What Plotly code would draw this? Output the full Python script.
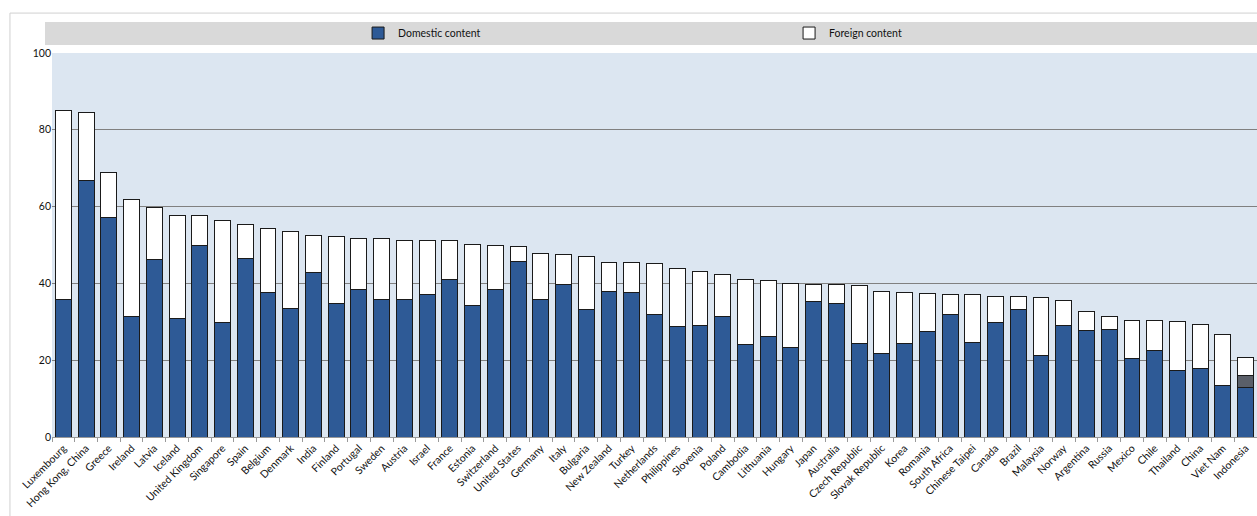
import plotly.graph_objects as go

countries = ["Luxembourg", "Hong Kong, China", "Greece", "Ireland", "Latvia", "Iceland",
             "United Kingdom", "Singapore", "Spain", "Belgium", "Denmark", "India", "Finland",
             "Portugal", "Sweden", "Austria", "Israel", "France", "Estonia", "Switzerland",
             "United States", "Germany", "Italy", "Bulgaria", "New Zealand", "Turkey",
             "Netherlands", "Philippines", "Slovenia", "Poland", "Cambodia", "Lithuania",
             "Hungary", "Japan", "Australia", "Czech Republic", "Slovak Republic", "Korea",
             "Romania", "South Africa", "Chinese Taipei", "Canada", "Brazil", "Malaysia",
             "Norway", "Argentina", "Russia", "Mexico", "Chile", "Thailand", "China",
             "Viet Nam", "Indonesia"]

domestic = [35.9, 66.7, 57.1, 31.3, 46.1, 30.9, 50.0, 29.8, 46.4, 37.7, 33.5, 42.9, 34.8,
            38.3, 35.7, 35.9, 37.0, 41.1, 34.2, 38.3, 45.8, 35.7, 39.8, 33.2, 37.8, 37.7,
            31.8, 28.7, 29.0, 31.3, 24.0, 26.3, 23.4, 35.4, 34.7, 24.4, 21.8, 24.4, 27.4,
            31.8, 24.7, 29.8, 33.2, 21.2, 29.0, 27.7, 27.9, 20.5, 22.5, 17.2, 17.8, 13.4,
            12.9]

other = [None] * 52 + [3.0]

foreign = [49.0, 17.8, 11.8, 30.6, 13.7, 26.9, 7.6, 26.5, 9.0, 16.6, 20.1, 9.5, 17.5,
           13.4, 16.0, 15.3, 14.2, 10.1, 16.0, 11.5, 3.8, 12.1, 7.8, 13.8, 7.6, 7.7,
           13.4, 15.2, 14.1, 10.9, 16.9, 14.4, 16.6, 4.4, 4.9, 15.0, 16.0, 13.2, 9.9,
           5.4, 12.3, 6.7, 3.3, 15.1, 6.5, 5.1, 3.4, 9.8, 7.8, 12.8, 11.5, 13.3,
           4.9]

y_ticks = [0, 20, 40, 60, 80, 100]

BLUE = "#2e5a96"
font_family = "Lato, 'Open Sans', sans-serif"

fig = go.Figure()
fig.add_trace(go.Bar(x=countries, y=domestic, name="Domestic content",
                     marker=dict(color=BLUE, line=dict(color="#1a1a1a", width=1))))
fig.add_trace(go.Bar(x=countries, y=other, name="Other", showlegend=False,
                     marker=dict(color="#5a5f69", line=dict(color="#1a1a1a", width=1))))
fig.add_trace(go.Bar(x=countries, y=foreign, name="Foreign content",
                     marker=dict(color="#ffffff", line=dict(color="#1a1a1a", width=1))))

# plot area: x 52..1257 px, y 53..437 px
fig.update_layout(
    width=1257, height=516,
    margin=dict(l=52, r=0, t=53, b=79, autoexpand=False),
    barmode="stack", bargap=0.3,
    paper_bgcolor="#ffffff", plot_bgcolor="#dce6f1",
    font=dict(family=font_family, size=10, color="#111111"),
    showlegend=True,
    legend=dict(orientation="h", x=0.254, xanchor="left", y=1.052, yanchor="middle",
                bgcolor="rgba(0,0,0,0)", font=dict(size=10.5, color="#111111"),
                entrywidth=386, entrywidthmode="pixels", itemwidth=30,
                traceorder="normal"),
    xaxis=dict(tickangle=-45, ticks="outside", tickson="boundaries", ticklen=4,
               tickcolor="#999999", showline=True, linecolor="#999999", linewidth=1,
               tickfont=dict(size=10.5, color="#111111"), automargin=False,
               showgrid=False),
    yaxis=dict(range=[0, 100], tickvals=y_ticks, showgrid=True, gridcolor="#808080",
               gridwidth=1, zeroline=False, showline=False, ticks="",
               tickfont=dict(size=10.5, color="#111111"), automargin=False),
    shapes=[
        dict(type="rect", xref="paper", yref="paper", x0=-0.0058, x1=1.0,
             y0=1.0208, y1=1.0807, fillcolor="#d9d9d9", line=dict(width=0), layer="below"),
        dict(type="rect", xref="paper", yref="paper", x0=-0.0349, x1=1.01,
             y0=-0.3, y1=1.104, fillcolor="rgba(0,0,0,0)",
             line=dict(color="#d0d0d0", width=1), layer="below"),
    ],
)

fig.write_html("out.html",
               config={"displayModeBar": False},
               post_script="document.body.style.margin='0';document.body.style.padding='0';")
